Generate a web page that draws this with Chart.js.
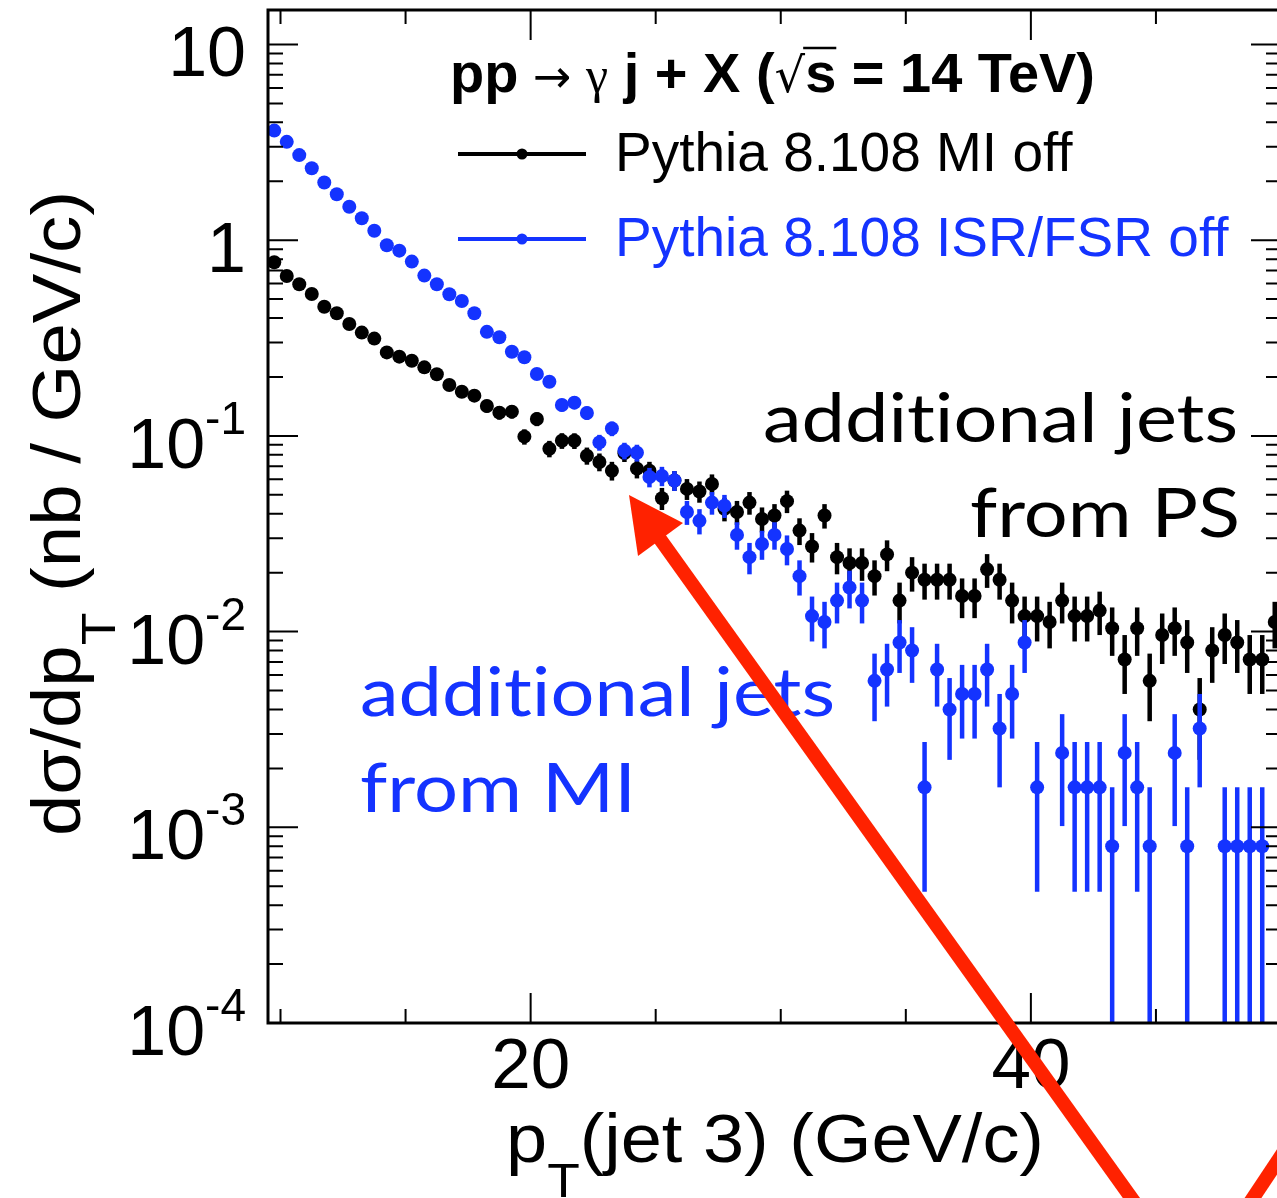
<!DOCTYPE html>
<html>
<head>
<meta charset="utf-8">
<script src="https://cdn.jsdelivr.net/npm/chart.js@4.4.1/dist/chart.umd.min.js"></script>
<style>
  html, body { margin: 0; padding: 0; overflow: hidden; background: #fff; }
  #plot { display: block; }
</style>
</head>
<body>
<canvas id="plot" width="1290" height="1198"></canvas>
<script>
// ─── Data (0.5 GeV bins, 9.5 – 50 GeV) ────────────────────────────────────────
const ptBinCenters = [
  9.75, 10.25, 10.75, 11.25, 11.75, 12.25, 12.75, 13.25, 13.75, 14.25,
  14.75, 15.25, 15.75, 16.25, 16.75, 17.25, 17.75, 18.25, 18.75, 19.25,
  19.75, 20.25, 20.75, 21.25, 21.75, 22.25, 22.75, 23.25, 23.75, 24.25,
  24.75, 25.25, 25.75, 26.25, 26.75, 27.25, 27.75, 28.25, 28.75, 29.25,
  29.75, 30.25, 30.75, 31.25, 31.75, 32.25, 32.75, 33.25, 33.75, 34.25,
  34.75, 35.25, 35.75, 36.25, 36.75, 37.25, 37.75, 38.25, 38.75, 39.25,
  39.75, 40.25, 40.75, 41.25, 41.75, 42.25, 42.75, 43.25, 43.75, 44.25,
  44.75, 45.25, 45.75, 46.25, 46.75, 47.25, 47.75, 48.25, 48.75, 49.25,
  49.75,
];

// dσ/dpT (nb / GeV/c), Pythia 8.108 MI off
const miOff = [
  0.771, 0.656, 0.595, 0.531, 0.457, 0.423, 0.373, 0.337, 0.314, 0.267,
  0.254, 0.242, 0.224, 0.2065, 0.182, 0.168, 0.1605, 0.1422, 0.1314, 0.133,
  0.0991, 0.122, 0.086, 0.0945, 0.0944, 0.0792, 0.0736, 0.0664, 0.0816, 0.068,
  0.0664, 0.048, 0.0592, 0.0536, 0.052, 0.0568, 0.0424, 0.0408, 0.0456, 0.0376,
  0.0392, 0.0464, 0.0328, 0.0272, 0.0392, 0.024, 0.0224, 0.0224, 0.0192, 0.0248,
  0.0144, 0.02, 0.0184, 0.0184, 0.0184, 0.0152, 0.0152, 0.0208, 0.0184, 0.0144,
  0.012, 0.012, 0.0112, 0.0144, 0.012, 0.012, 0.0128, 0.0104, 0.0072, 0.0104,
  0.0056, 0.0096, 0.0104, 0.0088, 0.004, 0.008, 0.0096, 0.0088, 0.0072, 0.0072,
  0.0112,
];

// dσ/dpT (nb / GeV/c), Pythia 8.108 ISR/FSR off (null = empty bin)
const isrFsrOff = [
  3.63, 3.18, 2.72, 2.33, 1.97, 1.716, 1.483, 1.294, 1.118, 0.942,
  0.884, 0.777, 0.659, 0.595, 0.529, 0.489, 0.423, 0.34, 0.319, 0.269,
  0.252, 0.207, 0.189, 0.1439, 0.1478, 0.131, 0.0926, 0.109, 0.084, 0.082,
  0.0616, 0.0624, 0.0592, 0.0408, 0.0368, 0.0456, 0.044, 0.0312, 0.024, 0.028,
  0.0312, 0.0264, 0.0192, 0.012, 0.0112, 0.0144, 0.0168, 0.0144, 0.0056, 0.0064,
  0.0088, 0.008, 0.0016, 0.0064, 0.004, 0.0048, 0.0048, 0.0064, 0.0032, 0.0048,
  0.0088, 0.0016, null, 0.0024, 0.0016, 0.0016, 0.0016, 0.0008, 0.0024, 0.0016,
  0.0008, null, 0.0024, 0.0008, 0.0032, null, 0.0008, 0.0008, 0.0008, 0.0008,
  null,
];

// one MC event = 8e-4 nb/GeV in these histograms -> Poisson error bars
const EVENT_WEIGHT = 8e-4;

const xMajorTicks = [20, 40];
const xMinorTicks = [10, 15, 25, 30, 35, 45];
const xTickLabels = ['20', '40'];
const yDecades = [1e-4, 1e-3, 1e-2, 1e-1, 1, 10];
const yTickLabels = [['10', '-4'], ['10', '-3'], ['10', '-2'], ['10', '-1'], ['1', ''], ['10', '']];

const BLACK = '#000000';
const BLUE = '#1433ff';
const RED = '#ff2200';
const SANS = '"Liberation Sans", Arial, Helvetica, sans-serif';
const GILL = 'Lato, "Open Sans", sans-serif';

const toPoints = vals => vals
  .map((v, i) => ({ x: ptBinCenters[i], y: v }))
  .filter(p => p.y != null);

// ─── Text helper: runs drawn left to right, optionally squeezed to a width ────
function drawRuns(ctx, runs, x0, y0, opts = {}) {
  ctx.save();
  ctx.translate(x0, y0);
  if (opts.angle) ctx.rotate(opts.angle);
  let total = 0;
  runs.forEach(r => {
    ctx.font = r.font;
    r.w = ctx.measureText(r.t).width;
    total += r.w;
  });
  const sx = opts.width ? opts.width / total : 1;
  ctx.scale(sx, 1);
  ctx.textAlign = 'left';
  ctx.textBaseline = 'alphabetic';
  let cx = opts.align === 'right' ? -total : 0;
  runs.forEach(r => {
    ctx.font = r.font;
    ctx.fillStyle = r.color || opts.color || BLACK;
    ctx.fillText(r.t, cx, r.dy || 0);
    if (r.overline) {
      ctx.strokeStyle = ctx.fillStyle;
      ctx.lineWidth = 2.5;
      ctx.beginPath();
      ctx.moveTo(cx - 2, r.overline);
      ctx.lineTo(cx + r.w, r.overline);
      ctx.stroke();
    }
    cx += r.w;
  });
  ctx.restore();
}

// ─── Error bars, drawn under each dataset's markers ──────────────────────────
const errorBars = {
  id: 'errorBars',
  beforeDatasetDraw(chart, args) {
    const { ctx, chartArea, scales: { x, y } } = chart;
    const ds = chart.data.datasets[args.index];
    ctx.save();
    ctx.beginPath();
    ctx.rect(chartArea.left, chartArea.top, chartArea.width, chartArea.height);
    ctx.clip();
    ctx.strokeStyle = ds.borderColor;
    ctx.lineWidth = 4.5;
    ds.data.forEach(p => {
      const err = Math.sqrt(p.y * EVENT_WEIGHT);
      const lo = p.y - err;
      const px = x.getPixelForValue(p.x);
      const top = y.getPixelForValue(p.y + err);
      const bottom = lo > 1e-9 ? y.getPixelForValue(lo) : chartArea.bottom;
      ctx.beginPath();
      ctx.moveTo(px, top);
      ctx.lineTo(px, Math.min(bottom, chartArea.bottom));
      ctx.stroke();
    });
    ctx.restore();
  },
};

// ─── Frame, ROOT-style ticks, labels, legend and annotations ─────────────────
const decorations = {
  id: 'decorations',
  afterDraw(chart) {
    const { ctx, chartArea: a, scales: { x, y } } = chart;
    ctx.save();

    // ticks on all four sides
    ctx.strokeStyle = BLACK;
    ctx.lineWidth = 2;
    const xTick = (v, len) => {
      const px = x.getPixelForValue(v);
      ctx.beginPath();
      ctx.moveTo(px, a.bottom); ctx.lineTo(px, a.bottom - len);
      ctx.moveTo(px, a.top); ctx.lineTo(px, a.top + len);
      ctx.stroke();
    };
    xMajorTicks.forEach(v => xTick(v, 30));
    xMinorTicks.forEach(v => xTick(v, 14));
    const yTick = (v, len) => {
      const py = y.getPixelForValue(v);
      if (py < a.top - 0.5 || py > a.bottom + 0.5) return;
      ctx.beginPath();
      ctx.moveTo(a.left, py); ctx.lineTo(a.left + len, py);
      ctx.moveTo(a.right, py); ctx.lineTo(a.right - len, py);
      ctx.stroke();
    };
    yDecades.forEach(d => {
      yTick(d, 30);
      for (let k = 2; k <= 9; k++) yTick(d * k, 15);
    });

    // frame
    ctx.lineWidth = 3;
    ctx.strokeRect(a.left, a.top, a.right - a.left, a.bottom - a.top);

    // y tick labels (10^n)
    yDecades.forEach((d, i) => {
      const py = y.getPixelForValue(d);
      const [base, exp] = yTickLabels[i];
      let right = 246;
      if (exp) {
        drawRuns(ctx, [{ t: exp, font: `46px ${SANS}` }], right, py - 2, { align: 'right' });
        ctx.font = `46px ${SANS}`;
        right -= ctx.measureText(exp).width;
      }
      drawRuns(ctx, [{ t: base, font: `70px ${SANS}` }], right, py + 32, { align: 'right' });
    });

    // x tick labels
    ctx.font = `71px ${SANS}`;
    ctx.fillStyle = BLACK;
    ctx.textAlign = 'center';
    xMajorTicks.forEach((v, i) => ctx.fillText(xTickLabels[i], x.getPixelForValue(v), 1088));

    // axis titles
    drawRuns(ctx, [
      { t: 'p', font: `68px ${SANS}` },
      { t: 'T', font: `49px ${SANS}`, dy: 35 },
      { t: '(jet 3) (GeV/c)', font: `68px ${SANS}` },
    ], 506, 1162, { width: 538 });
    drawRuns(ctx, [
      { t: 'd\u03c3/dp', font: `68px ${SANS}` },
      { t: 'T', font: `49px ${SANS}`, dy: 35 },
      { t: ' (nb / GeV/c)', font: `68px ${SANS}` },
    ], 80, 836, { width: 645, angle: -Math.PI / 2 });

    // process label
    drawRuns(ctx, [
      { t: 'pp', font: `bold 56px ${SANS}` },
      { t: ' \u2192 ', font: `46px "DejaVu Sans", sans-serif` },
      { t: '\u03b3', font: `50px "Liberation Serif", serif` },
      { t: ' j + X (', font: `bold 56px ${SANS}` },
      { t: '\u221a', font: `48px "DejaVu Sans", sans-serif` },
      { t: 's', font: `bold 56px ${SANS}`, overline: -44 },
      { t: ' = 14 TeV)', font: `bold 56px ${SANS}` },
    ], 450, 92, { width: 645 });

    // legend
    [[BLACK, 'Pythia 8.108 MI off', 154, 171], [BLUE, 'Pythia 8.108 ISR/FSR off', 239, 256]]
      .forEach(([c, label, ly, base]) => {
        ctx.strokeStyle = c;
        ctx.fillStyle = c;
        ctx.lineWidth = 4;
        ctx.beginPath();
        ctx.moveTo(458, ly); ctx.lineTo(586, ly);
        ctx.stroke();
        ctx.beginPath();
        ctx.arc(522, ly, 5.5, 0, Math.PI * 2);
        ctx.fill();
        drawRuns(ctx, [{ t: label, font: `55px ${SANS}` }], 615, base, { color: c });
      });

    // annotations (ZWNJ keeps Lato from joining "ti")
    const additional = 'addit\u200Cional jets';
    drawRuns(ctx, [{ t: additional, font: `68px ${GILL}` }], 1238, 442, { align: 'right', width: 475 });
    drawRuns(ctx, [{ t: 'from PS', font: `68px ${GILL}` }], 1240, 537, { align: 'right', width: 270 });
    drawRuns(ctx, [{ t: additional, font: `68px ${GILL}` }], 360, 716, { width: 475, color: BLUE });
    drawRuns(ctx, [{ t: 'from MI', font: `68px ${GILL}` }], 360, 812, { width: 276, color: BLUE });

    // red arrow
    ctx.strokeStyle = RED;
    ctx.fillStyle = RED;
    ctx.lineWidth = 14;
    ctx.lineCap = 'butt';
    ctx.beginPath();
    ctx.moveTo(1140, 1210); ctx.lineTo(655, 532);
    ctx.stroke();
    ctx.beginPath();
    ctx.moveTo(629, 495); ctx.lineTo(638, 556); ctx.lineTo(683, 523);
    ctx.closePath();
    ctx.fill();
    ctx.beginPath();
    ctx.moveTo(1245, 1210); ctx.lineTo(1295, 1135);
    ctx.stroke();

    ctx.restore();
  },
};

// ─── Chart ────────────────────────────────────────────────────────────────────
const pointStyle = color => ({
  backgroundColor: color,
  borderColor: color,
  pointRadius: 7,
  pointHoverRadius: 7,
  pointBorderWidth: 0,
  showLine: false,
});

new Chart(document.getElementById('plot'), {
  type: 'scatter',
  data: {
    datasets: [
      { label: 'Pythia 8.108 MI off', data: toPoints(miOff), ...pointStyle(BLACK), order: 2 },
      { label: 'Pythia 8.108 ISR/FSR off', data: toPoints(isrFsrOff), ...pointStyle(BLUE), order: 1 },
    ],
  },
  options: {
    responsive: false,
    animation: false,
    devicePixelRatio: 1,
    layout: { padding: { left: 268, right: 9, top: 10, bottom: 175 } },
    plugins: { legend: { display: false }, tooltip: { enabled: false } },
    scales: {
      x: { type: 'linear', min: 9.5, max: 50, display: false },
      y: { type: 'logarithmic', min: 1e-4, max: 15, display: false },
    },
  },
  plugins: [errorBars, decorations],
});
</script>
</body>
</html>
